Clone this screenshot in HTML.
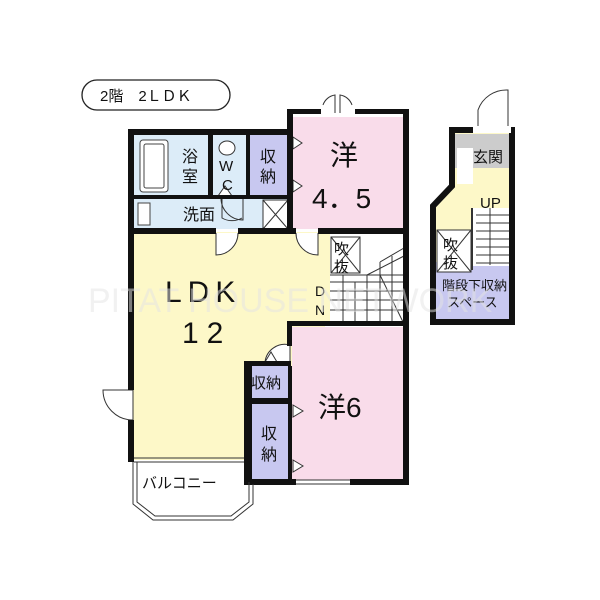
<!DOCTYPE html>
<html><head><meta charset="utf-8"><style>
html,body{margin:0;padding:0;background:#fff}
svg{display:block}
text{font-family:"Liberation Sans","Noto Sans CJK JP",sans-serif;fill:#111}
</style></head><body>
<svg width="600" height="600" viewBox="0 0 600 600" xmlns="http://www.w3.org/2000/svg">
<rect width="600" height="600" fill="#fff"/>
<!-- title -->
<rect x="82" y="80" width="148" height="30" rx="15" fill="#fff" stroke="#222" stroke-width="1.3"/>
<text x="100" y="101" font-size="15">2階　2ＬＤＫ</text>

<!-- fills -->
<rect x="133" y="232" width="192" height="228" fill="#fdf8c8"/>
<rect x="290" y="232" width="40" height="92" fill="#fdf8c8"/>
<rect x="133" y="135" width="75" height="62" fill="#dcecf8"/>
<rect x="213" y="135" width="33" height="62" fill="#dcecf8"/>
<rect x="133" y="199" width="155" height="30" fill="#dcecf8"/>
<rect x="250" y="135" width="38" height="62" fill="#c8c8f0"/>
<rect x="292" y="117" width="112" height="112" fill="#f9dcea"/>
<rect x="292" y="327" width="112" height="153" fill="#f9dcea"/>
<rect x="252" y="366" width="36" height="32" fill="#c8c8f0"/>
<rect x="252" y="404" width="36" height="75" fill="#c8c8f0"/>
<rect x="330" y="236" width="74" height="88" fill="#fff"/>

<!-- bath tub -->
<rect x="140" y="140" width="28" height="52" rx="3" fill="#fff" stroke="#444"/>
<rect x="144" y="144" width="20" height="44" rx="2" fill="none" stroke="#444"/>
<!-- toilet -->
<ellipse cx="227" cy="148" rx="8" ry="7" fill="#fff" stroke="#333"/>
<!-- sink -->
<rect x="138" y="203" width="12" height="22" fill="#fff" stroke="#444"/>
<!-- closet X -->
<rect x="263" y="200" width="25" height="29" fill="#fff" stroke="#333"/>
<line x1="263" y1="200" x2="288" y2="229" stroke="#333"/><line x1="288" y1="200" x2="263" y2="229" stroke="#333"/>
<!-- 吹抜 -->
<rect x="331" y="237" width="29" height="36" fill="#fff" stroke="#333"/>
<line x1="331" y1="237" x2="360" y2="273" stroke="#333"/><line x1="360" y1="237" x2="331" y2="273" stroke="#333"/>
<!-- stairs -->
<g stroke="#333" stroke-width="1" fill="none">
<line x1="330" y1="275" x2="404" y2="275"/>
<line x1="330" y1="282" x2="404" y2="282"/>
<line x1="330" y1="291" x2="404" y2="291"/>
<line x1="330" y1="300" x2="404" y2="300"/>
<line x1="330" y1="310" x2="404" y2="310"/>
<line x1="343" y1="275" x2="343" y2="324"/><line x1="355" y1="282" x2="355" y2="324"/>
<line x1="367" y1="275" x2="367" y2="324"/><line x1="380" y1="262" x2="380" y2="324"/>
<line x1="392" y1="256" x2="392" y2="324"/>
<line x1="380" y1="262" x2="404" y2="248"/><line x1="367" y1="275" x2="404" y2="256"/>
<line x1="380" y1="275" x2="404" y2="324"/>
</g>

<!-- doors -->
<g stroke="#333" fill="#fff" stroke-width="1">
<path d="M216 233 v22 a22 22 0 0 0 22 -22"/>
<path d="M296 233 a22 22 0 0 0 22 22 v-22"/>
<path d="M222 198 v20 a20 20 0 0 0 20 0" fill="none"/>
<path d="M243 198 v22 a22 22 0 0 1 -22 -22" fill="none"/>
<path d="M290 345 a20 20 0 0 0 -25 17 h25 z"/>
<path d="M133 390 h-30 a30 30 0 0 0 30 30 z"/>
<path d="M335 113 v-18 a15 15 0 0 0 -12 10" fill="none"/>
<path d="M340 113 v-18 a15 15 0 0 1 12 10" fill="none"/>
<path d="M478 130 v-20 a30 30 0 0 1 30 -20 v40" fill="#fff"/>
</g>
<!-- triangles -->
<g fill="#fff" stroke="#333">
<path d="M293 137 l9 6 l-9 6z"/><path d="M293 180 l9 6 l-9 6z"/>
<path d="M293 405 l10 6 l-10 6z"/><path d="M293 460 l10 6 l-10 6z"/>
<path d="M265 362 l6 -10 l6 10z"/><path d="M218 196 l7 -10 l7 10z"/>
</g>

<!-- walls -->
<g fill="#111">
<rect x="128" y="129" width="163" height="6"/>
<rect x="128" y="129" width="6" height="261"/>
<rect x="128" y="420" width="6" height="42"/>
<rect x="287" y="109" width="6" height="124"/>
<rect x="287" y="109" width="34" height="5"/>
<rect x="355" y="109" width="53" height="5"/>
<rect x="403" y="109" width="6" height="217"/>
<rect x="128" y="228" width="88" height="6"/>
<rect x="238" y="228" width="58" height="6"/>
<rect x="318" y="228" width="91" height="6"/>
<rect x="208" y="135" width="5" height="62"/>
<rect x="246" y="135" width="4" height="62"/>
<rect x="133" y="195" width="155" height="4"/>
<rect x="287" y="321" width="122" height="5"/>
<rect x="287" y="321" width="5" height="25"/>
<rect x="403" y="321" width="6" height="164"/>
<rect x="244" y="361" width="8" height="124"/>
<rect x="244" y="361" width="47" height="5"/>
<rect x="252" y="398" width="38" height="6"/>
<rect x="244" y="479" width="52" height="6"/>
<rect x="350" y="479" width="59" height="6"/>
<rect x="288" y="366" width="4" height="119"/>
</g>
<g stroke="#333" fill="none">
<line x1="134" y1="458" x2="244" y2="458"/><line x1="134" y1="462" x2="244" y2="462"/>
<line x1="296" y1="480" x2="350" y2="480"/><line x1="296" y1="484" x2="350" y2="484"/>
<path d="M133 462 v42 l20 16 h80 l20 -16 v-20"/>
<path d="M137 462 v40 l18 14 h76 l18 -14 v-20"/>
</g>

<!-- right unit -->
<path d="M433 206 L452 186 V130 H512 V322 H433 Z" fill="#fdf8c8"/>
<rect x="452" y="134" width="58" height="34" fill="#ccc"/>
<rect x="457" y="148" width="16" height="36" fill="#fff"/>
<rect x="436" y="262" width="74" height="57" fill="#c8c8f0"/>
<rect x="437" y="230" width="34" height="42" fill="#fff" stroke="#333"/>
<line x1="437" y1="230" x2="471" y2="272" stroke="#333"/><line x1="471" y1="230" x2="437" y2="272" stroke="#333"/>
<rect x="472" y="208" width="38" height="58" fill="#fff"/>
<line x1="472" y1="208" x2="472" y2="270" stroke="#333" stroke-width="2"/>
<g stroke="#333">
<line x1="476" y1="215" x2="510" y2="215"/><line x1="476" y1="223" x2="510" y2="223"/>
<line x1="476" y1="231" x2="510" y2="231"/><line x1="476" y1="239" x2="510" y2="239"/>
<line x1="476" y1="247" x2="510" y2="247"/><line x1="476" y1="255" x2="510" y2="255"/>
<line x1="476" y1="263" x2="510" y2="263"/><line x1="490" y1="208" x2="490" y2="265"/>
</g>
<path d="M433 206 L452 186 V130 H512 V322 H433 Z" fill="none" stroke="#111" stroke-width="6"/>
<rect x="473" y="126" width="38" height="7" fill="#fff"/>

<!-- labels -->
<text x="182" y="162" font-size="16">浴</text><text x="182" y="182" font-size="16">室</text>
<text x="219" y="171" font-size="15">W</text><text x="222" y="190" font-size="15">C</text>
<text x="260" y="162" font-size="16">収</text><text x="260" y="182" font-size="16">納</text>
<text x="183" y="220" font-size="16">洗面</text>
<text x="330" y="165" font-size="28">洋</text>
<text x="312" y="208" font-size="28">4．5</text>
<text x="334" y="254" font-size="15">吹</text><text x="334" y="272" font-size="15">抜</text>
<text x="315" y="296" font-size="14">D</text><text x="315" y="315" font-size="14">N</text>
<text x="165" y="302" font-size="30" letter-spacing="6">LDK</text>
<text x="182" y="343" font-size="30" letter-spacing="8">12</text>
<text x="251" y="388" font-size="15">収納</text>
<text x="261" y="439" font-size="16">収</text><text x="261" y="460" font-size="16">納</text>
<text x="318" y="417" font-size="28">洋6</text>
<text x="142" y="488" font-size="15">バルコニー</text>
<text x="473" y="162" font-size="15">玄関</text>
<text x="480" y="208" font-size="15">UP</text>
<text x="443" y="250" font-size="15">吹</text><text x="443" y="268" font-size="15">抜</text>
<text x="442" y="290" font-size="13">階段下収納</text>
<text x="447" y="307" font-size="13">スペース</text>
<text x="88" y="312" font-size="34" style="fill:#e4e4e4;opacity:0.5">PITAT HOUSE NETWORK</text>
</svg>
</body></html>
